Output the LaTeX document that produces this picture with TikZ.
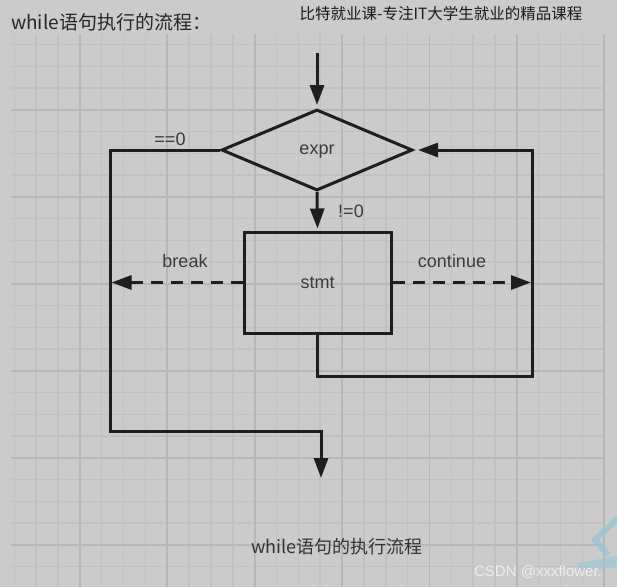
\documentclass[tikz,border=0pt]{standalone}
\usepackage{fontspec}
\setmainfont{Liberation Sans}
\newfontfamily\cjk{Noto Sans CJK SC}
\usetikzlibrary{shapes.geometric,arrows.meta}
\definecolor{bg}{HTML}{CBCBCB}
\definecolor{gridminor}{HTML}{C1C1C1}
\definecolor{gridmajor}{HTML}{B7B7B7}
\definecolor{ink}{HTML}{1E1E1E}
\definecolor{txt}{HTML}{3A3A3A}
\definecolor{wmblue}{HTML}{93C6D8}
\begin{document}
\begin{tikzpicture}[x=1pt,y=-1pt,
  line/.style={draw=ink,line width=3pt},
  arr/.style={line,-{Triangle[length=20pt,width=14pt]}},
  dasharr/.style={arr,dash pattern=on 12pt off 8pt},
  lbl/.style={font=\fontsize{18}{20}\selectfont,text=txt,inner sep=0pt},
  cjklbl/.style={font=\cjk\fontsize{18}{20}\selectfont,inner sep=0pt},
  minorline/.style={draw=gridminor,line width=1.5pt},
  majorline/.style={draw=gridmajor,line width=1.8pt},
]
\fill[bg] (0,0) rectangle (617,587);
\useasboundingbox (0,0) rectangle (617,587);
% grid
\foreach \i in {0,...,27}{\draw[minorline] ({14.3+21.85*\i},34) -- ({14.3+21.85*\i},587);}
\foreach \j in {0,...,25}{\draw[minorline] (11,{44.7+21.75*\j}) -- (605,{44.7+21.75*\j});}
\foreach \i in {3,7,...,27}{\draw[majorline] ({14.3+21.85*\i},34) -- ({14.3+21.85*\i},587);}
\foreach \j in {3,7,...,23}{\draw[majorline] (11,{44.7+21.75*\j}) -- (605,{44.7+21.75*\j});}
% header texts
\node[cjklbl,anchor=west,font=\cjk\fontsize{19}{21}\selectfont,text=black!85] (title) at (11,22) {while语句执行的流程：};
\node[cjklbl,font=\cjk\fontsize{15.5}{17}\selectfont,text=black!90] (brand) at (441,14) {比特就业课-专注IT大学生就业的精品课程};
% shapes
\node[diamond,draw=ink,line width=3pt,minimum width=191pt,minimum height=81pt,lbl,text depth=0pt] (expr) at (317,150) {expr};
\node[rectangle,draw=ink,line width=3pt,minimum width=147pt,minimum height=101pt,lbl] (stmt) at (317.5,282.5) {stmt};
% coordinates
\coordinate (top) at (317,53);
\coordinate (L1) at (110,150);
\coordinate (L2) at (110,431);
\coordinate (B1) at (321,431);
\coordinate (B2) at (321,478);
\coordinate (R1) at (317.5,376);
\coordinate (R2) at (532,376);
\coordinate (R3) at (532,150);
\coordinate (brk) at (111.5,282.5);
\coordinate (cont) at (531,282.5);
% connectors
\draw[arr,shorten >=3pt] (top) -- (expr.north);
\draw[arr,shorten >=2pt] (expr.south) -- (stmt.north);
\draw[arr] (expr.west) -- (L1) -- (L2) -- (B1) -- (B2);
\draw[arr,shorten >=4pt] (stmt.south) -- (R1) -- (R2) -- (R3) -- (expr.east);
\draw[dasharr] (stmt.west) -- (brk);
\draw[dasharr] (stmt.east) -- (cont);
% labels
\node[lbl] (eq0) at (170,139) {==0};
\node[lbl] (ne0) at (351,211) {!=0};
\node[lbl] (brklbl) at (185,261) {break};
\node[lbl] (contlbl) at (452,261.5) {continue};
\node[cjklbl,text=black!80] (caption) at (337,547) {while语句的执行流程};
% watermark
\draw[wmblue,line width=6pt,opacity=0.75] (619,517) -- (595,540) -- (608,555);
\fill[wmblue,opacity=0.6] (577,563) -- (617,556) -- (617,567) -- (579,571) -- cycle;
\node[inner sep=0pt,font=\fontsize{15}{17}\selectfont,text=white!93!black] (wm) at (538,572) {CSDN @xxxflower.};
\end{tikzpicture}
\end{document}
